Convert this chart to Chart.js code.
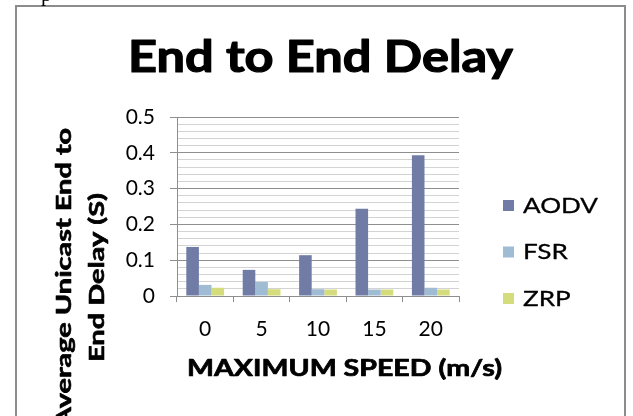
<!DOCTYPE html>
<html>
<head>
<meta charset="utf-8">
<script src="https://cdn.jsdelivr.net/npm/chart.js@4.4.1/dist/chart.umd.min.js"></script>
<style>
  html, body { margin: 0; padding: 0; background: #fff; overflow: hidden; }
  canvas { display: block; }
</style>
</head>
<body>
<canvas id="delayChart" width="633" height="460"></canvas>
<script>
// Maximum node speed (m/s) on the x axis
const speeds = ['0', '5', '10', '15', '20'];
// Average unicast end-to-end delay in seconds, per routing protocol
const aodvDelay = [0.137, 0.073, 0.114, 0.244, 0.393];
const fsrDelay  = [0.031, 0.039, 0.019, 0.018, 0.023];
const zrpDelay  = [0.023, 0.019, 0.018, 0.018, 0.018];
const protocols = ['AODV', 'FSR', 'ZRP'];

const chartTitle = 'End to End Delay';
const xAxisTitle = 'MAXIMUM SPEED (m/s)';
const yAxisTitle = ['Average Unicast End to', 'End Delay (S)'];

const FONT = 'Lato, "Open Sans", sans-serif';
const barColors = ['#717ca6', '#a0bcd5', '#d4dc7b'];
const MAJOR_GRID = '#8e8e8e';
const MINOR_GRID = '#d3d3d3';

const isMajor = v => Math.abs(v * 10 - Math.round(v * 10)) < 1e-6;

// Draws centred text stretched horizontally by sx, with a thin outline for weight
function wideText(c, text, x, y, sx, weight) {
  c.save();
  c.translate(x, y);
  c.scale(sx, 1);
  c.fillText(text, 0, 0);
  if (weight) {
    c.lineWidth = weight;
    c.strokeStyle = c.fillStyle;
    c.lineJoin = 'round';
    c.strokeText(text, 0, 0);
  }
  c.restore();
}

// Frame, titles and the legend drawn around the plot
const decorations = {
  id: 'decorations',
  beforeDraw(chart) {
    const c = chart.ctx;
    c.save();
    c.fillStyle = '#fff';
    c.fillRect(0, 0, chart.width, chart.height);
    c.strokeStyle = '#8c8c8c';
    c.lineWidth = 2;
    c.beginPath();
    c.moveTo(16, chart.height + 5);
    c.lineTo(16, 6);
    c.lineTo(625, 6);
    c.lineTo(625, chart.height + 5);
    c.stroke();
    // descender of the line of body text above the figure
    c.fillStyle = '#000';
    c.font = '21px "Liberation Serif", serif';
    c.textBaseline = 'alphabetic';
    c.fillText('p', 41, 1);
    c.restore();
  },
  afterDraw(chart) {
    const c = chart.ctx;
    c.save();
    c.fillStyle = '#000';

    // main title
    c.font = `bold 43px ${FONT}`;
    c.textAlign = 'center';
    c.textBaseline = 'alphabetic';
    wideText(c, chartTitle, 320.5, 72, 385 / c.measureText(chartTitle).width, 1.2);

    // x axis title
    c.font = `bold 22px ${FONT}`;
    wideText(c, xAxisTitle, 344.5, 376, 315 / c.measureText(xAxisTitle).width, 0.7);

    // y axis title, two rotated lines
    c.font = `bold 20px ${FONT}`;
    c.textBaseline = 'middle';
    const ySx = 169 / c.measureText(yAxisTitle[1]).width;
    const xs = [65, 98];
    yAxisTitle.forEach((line, i) => {
      c.save();
      c.translate(xs[i], 277.5);
      c.rotate(-Math.PI / 2);
      wideText(c, line, 0, 0, ySx, 0.6);
      c.restore();
    });

    // legend
    c.textAlign = 'left';
    c.font = `21px ${FONT}`;
    const lSx = 75 / c.measureText(protocols[0]).width;
    chart.data.datasets.forEach((ds, i) => {
      const cy = 205 + i * 46.5;
      c.fillStyle = ds.backgroundColor;
      c.fillRect(503, cy - 5, 11, 11);
      c.fillStyle = '#000';
      wideText(c, ds.label, 523, cy + 1, lSx, 0.3);
    });
    c.restore();
  }
};

new Chart(document.getElementById('delayChart'), {
  type: 'bar',
  data: {
    labels: speeds,
    datasets: [
      { label: protocols[0], data: aodvDelay, backgroundColor: barColors[0] },
      { label: protocols[1], data: fsrDelay,  backgroundColor: barColors[1] },
      { label: protocols[2], data: zrpDelay,  backgroundColor: barColors[2] }
    ]
  },
  options: {
    responsive: false,
    animation: false,
    events: [],
    layout: { padding: { left: 117, right: 174, top: 117, bottom: 124 } },
    datasets: { bar: { categoryPercentage: 0.67, barPercentage: 1.0, borderWidth: 0 } },
    plugins: {
      legend: { display: false },
      title: { display: false },
      tooltip: { enabled: false }
    },
    scales: {
      x: {
        grid: { offset: true, drawOnChartArea: false, color: MAJOR_GRID, tickLength: 6 },
        border: { color: MAJOR_GRID },
        ticks: { font: { family: FONT, size: 21 }, color: '#000', padding: 15 },
        afterFit(s) { s.height = 40; }
      },
      y: {
        min: 0,
        max: 0.5,
        ticks: {
          stepSize: 0.02,
          autoSkip: false,
          font: { family: FONT, size: 21 },
          color: '#000',
          padding: 15,
          callback: v => isMajor(v) ? (v === 0 ? '0' : v.toFixed(1)) : ''
        },
        grid: {
          color: ctx => isMajor(ctx.tick.value) ? MAJOR_GRID : MINOR_GRID,
          tickColor: ctx => isMajor(ctx.tick.value) ? MAJOR_GRID : 'rgba(0,0,0,0)',
          tickLength: 7
        },
        border: { color: MAJOR_GRID },
        afterFit(s) { s.width = 60; }
      }
    }
  },
  plugins: [decorations]
});
</script>
</body>
</html>
